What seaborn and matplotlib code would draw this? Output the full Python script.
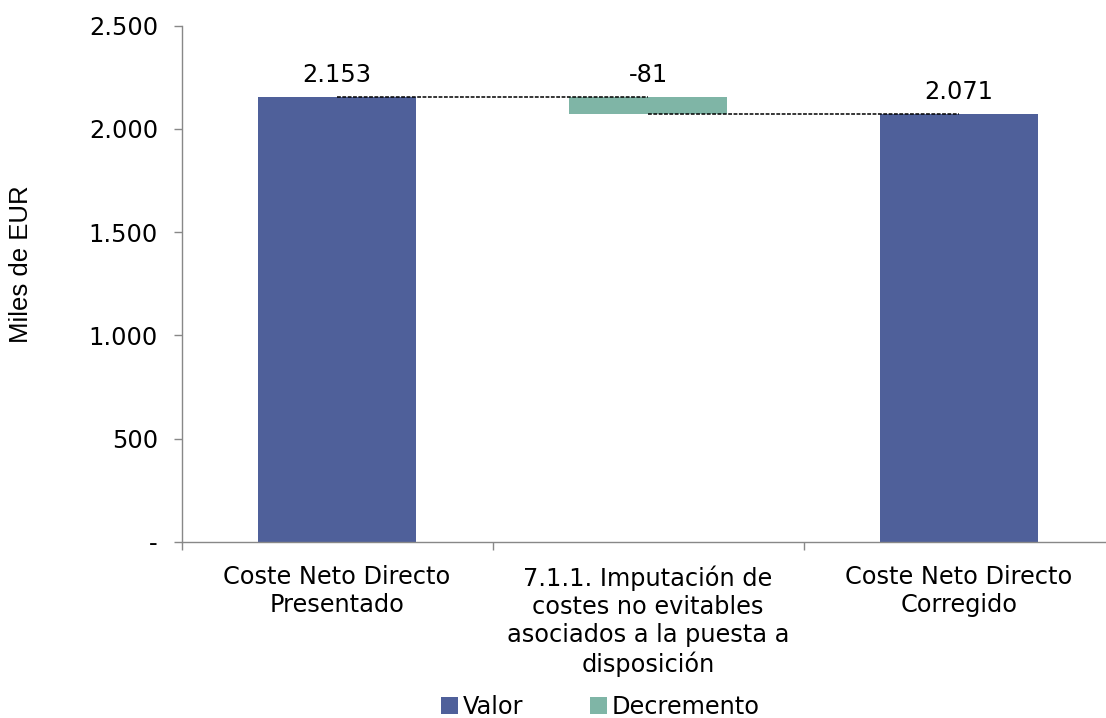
import matplotlib
matplotlib.use("Agg")
import matplotlib.pyplot as plt
import seaborn as sns
import pandas as pd
from matplotlib.patches import Patch
from matplotlib.ticker import FuncFormatter


# -------------------- Data --------------------

categories = [
    "Coste Neto Directo\nPresentado",
    "7.1.1. Imputación de\ncostes no evitables\nasociados a la puesta a\ndisposición",
    "Coste Neto Directo\nCorregido",
]
start_value = 2153
change_value = -81
end_value = 2071
value_labels = ["2.153", "-81", "2.071"]
series_names = ["Valor", "Decremento"]
yticks = [0, 500, 1000, 1500, 2000, 2500]

color_valor = "#4F609A"
color_decr = "#7FB5A6"
font_size = 17.3


def fmt_miles(v, pos=None):
    if v == 0:
        return "-"
    return f"{int(v):,}".replace(",", ".")


# -------------------- Plot --------------------

sns.set_theme(style="white")
plt.rcParams["font.family"] = ["DejaVu Sans"]
plt.rcParams["text.color"] = "black"
plt.rcParams["xtick.color"] = "black"
plt.rcParams["ytick.color"] = "black"

fig = plt.figure(figsize=(11.06, 7.18), dpi=100)
ax = fig.add_axes([181.5 / 1106, (718 - 541.7) / 718, 933 / 1106, 516 / 718])

totals = pd.DataFrame({
    "cat": [categories[0], categories[2]],
    "val": [start_value, end_value],
})
sns.barplot(data=totals, x="cat", y="val", order=categories, color=color_valor,
            width=0.51, saturation=1, edgecolor="none", ax=ax, zorder=2)

decr = pd.DataFrame({"cat": [categories[1]], "val": [-change_value]})
sns.barplot(data=decr, x="cat", y="val", order=categories, color=color_decr,
            width=0.51, saturation=1, edgecolor="none",
            bottom=start_value + change_value, ax=ax, zorder=2)

# connector lines
ax.plot([0, 1], [start_value, start_value], color="black", lw=1.1,
        linestyle=(0, (2.5, 1)), zorder=3)
ax.plot([1, 2], [end_value, end_value], color="black", lw=1.1,
        linestyle=(0, (2.5, 1)), zorder=3)

# value labels
tops = [start_value, start_value, end_value]
for i, (t, lab) in enumerate(zip(tops, value_labels)):
    ax.annotate(lab, (i, t), xytext=(0, 16), textcoords="offset points",
                ha="center", va="center", fontsize=font_size, color="black")

# axes
ax.set_xlim(-0.5, 2.5)
ax.set_ylim(0, 2500)
ax.set_yticks(yticks)
ax.yaxis.set_major_formatter(FuncFormatter(fmt_miles))

ax.set_xticks([-0.5, 0.5, 1.5, 2.5])
ax.set_xticklabels([])
ax.set_xticks([0, 1, 2], minor=True)
ax.set_xticklabels(categories, minor=True, fontsize=font_size, linespacing=1.22)
ax.tick_params(axis="x", which="major", length=6, width=1, color="#888888",
               direction="out", bottom=True)
ax.tick_params(axis="x", which="minor", length=0, pad=17, labelcolor="black")
ax.tick_params(axis="y", length=6, width=1, color="#888888", direction="out",
               left=True, labelsize=font_size, pad=11, labelcolor="black")
ax.set_xlabel("")
ax.set_ylabel("Miles de EUR", fontsize=18.5, color="black",
              family=["Liberation Sans", "DejaVu Sans"])
ax.yaxis.set_label_coords(-0.159, 0.538)

for side in ["top", "right"]:
    ax.spines[side].set_visible(False)
for side in ["left", "bottom"]:
    ax.spines[side].set_color("#888888")
    ax.spines[side].set_linewidth(1)

# legend
handles = [Patch(facecolor=color_valor, edgecolor="none"),
           Patch(facecolor=color_decr, edgecolor="none")]
fig.legend(handles, series_names, loc="center", bbox_to_anchor=(0.543, 0.016),
           ncol=2, frameon=False, fontsize=font_size, handlelength=0.7,
           handleheight=0.7, handletextpad=0.2, columnspacing=2.8,
           labelcolor="black")

fig.savefig("out.png", dpi=100)
